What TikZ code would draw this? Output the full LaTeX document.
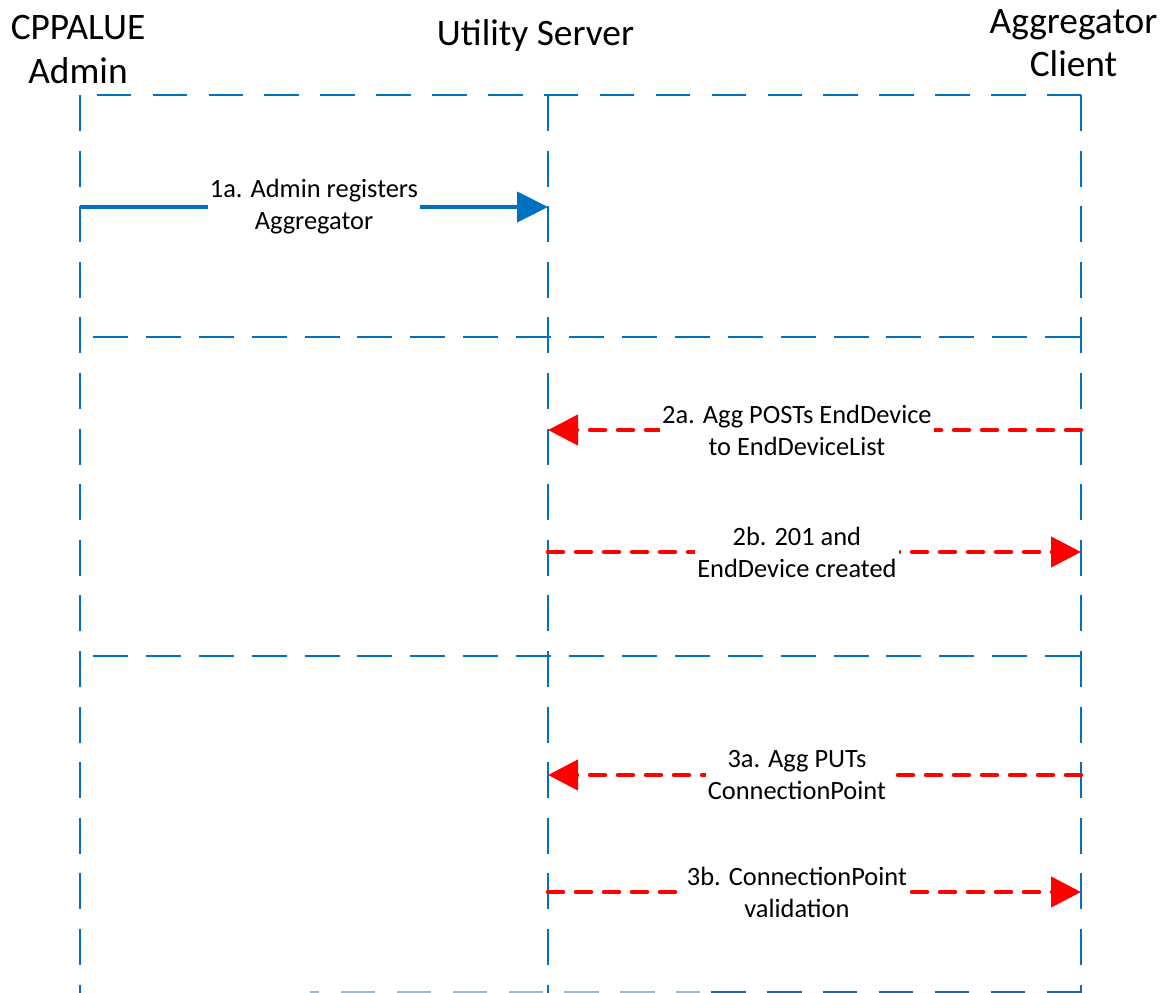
\documentclass[tikz,border=0pt]{standalone}
\usepackage{fontspec}
\setmainfont{Carlito}
\usetikzlibrary{arrows.meta}
\definecolor{lineblue}{HTML}{0070C0}
\definecolor{msgred}{HTML}{FF0000}
\begin{document}
\begin{tikzpicture}[x=1bp,y=-1bp,
  topframe/.style={draw=lineblue, line width=2bp, dash pattern=on 34.5bp off 21.4bp, dash phase=39.2bp},
  sepline/.style={draw=lineblue, line width=2bp, dash pattern=on 35bp off 17.9bp, dash phase=40bp},
  lifeline/.style={draw=lineblue, line width=2bp, dash pattern=on 36bp off 19.6bp},
  hdr/.style={font=\fontsize{37.5}{43.5}\selectfont, align=center, inner sep=0pt},
  lbl/.style={font=\fontsize{26.5}{32}\selectfont, align=center, fill=white, inner xsep=2bp, inner ysep=1bp},
  req/.style={draw=lineblue, line width=4.5bp, -{Triangle[length=31bp,width=30bp]}},
  msg/.style={draw=msgred, line width=4.5bp, line cap=round, dash pattern=on 15bp off 13bp, -{Triangle[length=30bp,width=30bp]}}
]
\useasboundingbox (0,0) rectangle (1166,993);

% lifeline anchors
\coordinate (aTop) at (80,95);
\coordinate (sTop) at (548,95);
\coordinate (cTop) at (1081,95);
\coordinate (aBot) at (80,993);
\coordinate (sBot) at (548,993);
\coordinate (cBot) at (1081,993);

% headers
\node[hdr] (hAdmin) at (78,49.5) {CPPALUE\\Admin};
\node[hdr, anchor=base] (hServer) at (535.5,45) {Utility Server};
\node[hdr] (hClient) at (1073.5,43) {Aggregator\\Client};

% frame and lifelines
\draw[topframe] (aTop) -- (cTop);
\draw[lifeline] (aTop) -- (aBot);
\draw[lifeline] (sTop) -- (sBot);
\draw[lifeline] (cTop) -- (cBot);

% separators
\coordinate (aSep1) at (80,337);
\coordinate (cSep1) at (1081,337);
\coordinate (aSep2) at (80,656);
\coordinate (cSep2) at (1081,656);
\draw[sepline] (aSep1) -- (cSep1);
\draw[sepline] (aSep2) -- (cSep2);
\coordinate (bEndL) at (310,992);
\coordinate (bMid) at (700,992);
\coordinate (bEndR) at (1081,992);
\draw[topframe, dash phase=0bp] (bEndR) -- (bMid);
\draw[topframe, dash phase=10.7bp, draw opacity=0.45] (bMid) -- (bEndL);

% message end points
\coordinate (a1) at (80,207);   \coordinate (s1) at (548,207);
\coordinate (c2a) at (1081,430); \coordinate (s2a) at (548,430);
\coordinate (s2b) at (548,552);  \coordinate (c2b) at (1081,552);
\coordinate (c3a) at (1081,775); \coordinate (s3a) at (548,775);
\coordinate (s3b) at (548,892);  \coordinate (c3b) at (1081,892);

% messages
\draw[req] (a1) -- node[lbl] (m1a) {1a. Admin registers\\Aggregator} (s1);
\draw[msg] (c2a) -- node[lbl, pos=0.533] (m2a) {2a. Agg POSTs EndDevice\\to EndDeviceList} (s2a);
\draw[msg] (s2b) -- node[lbl, pos=0.467] (m2b) {2b. 201 and\\EndDevice created} (c2b);
\draw[msg] (c3a) -- node[lbl, pos=0.533] (m3a) {3a. Agg PUTs\\ConnectionPoint} (s3a);
\draw[msg] (s3b) -- node[lbl, pos=0.467] (m3b) {3b. ConnectionPoint\\validation} (c3b);
\end{tikzpicture}
\end{document}
